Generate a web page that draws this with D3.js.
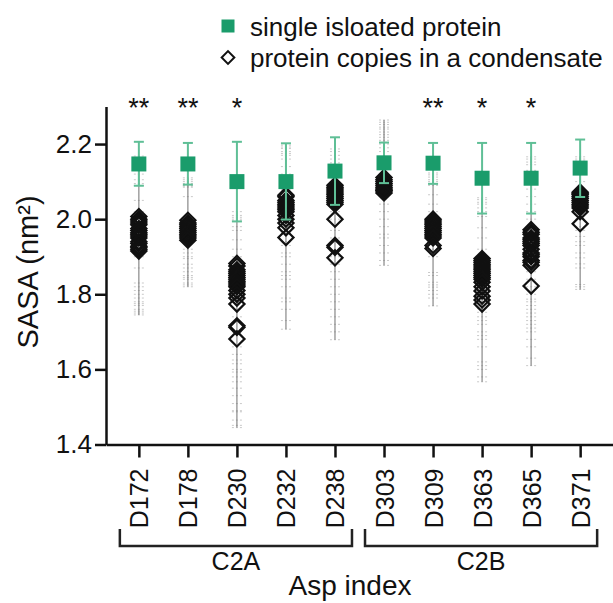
<!DOCTYPE html>
<html lang="en">
<head>
<meta charset="UTF-8">
<title>SASA</title>
<style>
  body { margin: 0; background: #fff; }
  #chart { display: block; }
  text { font-family: "Liberation Sans", Arial, sans-serif; fill: #111; }
</style>
</head>
<body>
<svg id="chart" width="613" height="603"></svg>
<script src="https://cdnjs.cloudflare.com/ajax/libs/d3/7.8.5/d3.min.js"></script>
<script>
// categories and groups
const categories = ["D172", "D178", "D230", "D232", "D238", "D303", "D309", "D363", "D365", "D371"];
const groups = [
  { name: "C2A", from: "D172", to: "D238" },
  { name: "C2B", from: "D303", to: "D371" }
];
const stars = ["**", "**", "*", "", "", "", "**", "*", "*", ""];

// single isolated protein: mean and error bar ends
const singleMean = [2.147, 2.147, 2.100, 2.100, 2.128, 2.150, 2.149, 2.109, 2.109, 2.136];
const singleLow  = [2.089, 2.092, 1.994, 1.999, 2.038, 2.096, 2.094, 2.015, 2.015, 2.059];
const singleHigh = [2.206, 2.203, 2.206, 2.202, 2.218, 2.204, 2.203, 2.203, 2.203, 2.212];

// protein copies in a condensate: per-copy means (diamonds)
const copyMeans = [
  [2.007, 2.0, 1.995, 1.99, 1.985, 1.975, 1.97, 1.964, 1.96, 1.955, 1.95, 1.94, 1.935, 1.928, 1.925, 1.92, 1.915],
  [1.997, 1.99, 1.985, 1.98, 1.975, 1.97, 1.965, 1.96, 1.955, 1.95, 1.944],
  [1.882, 1.875, 1.865, 1.86, 1.855, 1.85, 1.845, 1.84, 1.835, 1.83, 1.825, 1.82, 1.81, 1.8, 1.79, 1.774, 1.716, 1.712, 1.681],
  [2.064, 2.06, 2.05, 2.045, 2.04, 2.035, 2.03, 2.025, 2.02, 2.01, 2.0, 1.99, 1.977, 1.951],
  [2.09, 2.085, 2.08, 2.075, 2.07, 2.065, 2.06, 2.055, 2.05, 2.045, 2.04, 2.0, 1.93, 1.925, 1.897],
  [2.111, 2.105, 2.1, 2.095, 2.09, 2.085, 2.08, 2.077, 2.075, 2.07],
  [2.0, 1.995, 1.99, 1.985, 1.98, 1.975, 1.97, 1.965, 1.96, 1.955, 1.95, 1.93, 1.922],
  [1.895, 1.89, 1.885, 1.88, 1.875, 1.87, 1.865, 1.86, 1.855, 1.85, 1.845, 1.84, 1.832, 1.82, 1.809, 1.795, 1.785, 1.774],
  [1.972, 1.965, 1.96, 1.95, 1.945, 1.94, 1.935, 1.93, 1.92, 1.91, 1.905, 1.9, 1.89, 1.885, 1.877, 1.822],
  [2.072, 2.068, 2.065, 2.06, 2.055, 2.05, 2.045, 2.04, 2.035, 2.03, 2.02, 1.988]
];

// individual frames (small grey dashes)
const copyPoints = [
  [2.168, 2.162, 2.155, 2.148, 2.14, 2.12, 2.105, 2.095, 2.09, 2.05, 2.02, 2.0, 1.98, 1.96, 1.94, 1.92, 1.9, 1.87, 1.83, 1.82, 1.81, 1.8, 1.79, 1.78, 1.775, 1.77, 1.76, 1.755, 1.75, 1.745],
  [2.11, 2.105, 2.1, 2.095, 2.09, 2.088, 2.085, 2.06, 2.0, 1.98, 1.96, 1.94, 1.92, 1.91, 1.9, 1.895, 1.88, 1.87, 1.86, 1.85, 1.845, 1.84, 1.83, 1.825, 1.82],
  [2.02, 2.01, 2.005, 2.0, 1.995, 1.98, 1.97, 1.945, 1.92, 1.9, 1.86, 1.82, 1.78, 1.74, 1.7, 1.66, 1.64, 1.625, 1.615, 1.6, 1.593, 1.58, 1.567, 1.55, 1.53, 1.509, 1.49, 1.487, 1.465, 1.451, 1.445],
  [2.197, 2.192, 2.188, 2.18, 2.175, 2.17, 2.16, 2.14, 2.12, 2.1, 2.08, 2.06, 2.04, 2.02, 2.0, 1.98, 1.96, 1.94, 1.93, 1.91, 1.9, 1.88, 1.86, 1.85, 1.84, 1.82, 1.79, 1.78, 1.76, 1.73, 1.707],
  [2.187, 2.18, 2.17, 2.16, 2.15, 2.12, 2.1, 2.08, 2.06, 2.04, 2.02, 2.0, 1.97, 1.95, 1.92, 1.9, 1.88, 1.86, 1.84, 1.82, 1.8, 1.78, 1.76, 1.74, 1.72, 1.7, 1.679],
  [2.264, 2.258, 2.252, 2.245, 2.24, 2.232, 2.225, 2.218, 2.21, 2.2, 2.19, 2.18, 2.16, 2.14, 2.12, 2.1, 2.08, 2.06, 2.04, 2.02, 2.0, 1.98, 1.96, 1.95, 1.93, 1.91, 1.89, 1.877],
  [2.123, 2.118, 2.112, 2.105, 2.1, 2.095, 2.09, 2.065, 2.04, 2.02, 2.0, 1.98, 1.96, 1.94, 1.92, 1.9, 1.858, 1.85, 1.832, 1.825, 1.819, 1.81, 1.8, 1.79, 1.769],
  [2.057, 2.052, 2.045, 2.04, 2.03, 2.02, 2.007, 1.977, 1.95, 1.92, 1.9, 1.88, 1.86, 1.84, 1.82, 1.8, 1.78, 1.762, 1.752, 1.74, 1.73, 1.72, 1.7, 1.69, 1.68, 1.66, 1.62, 1.61, 1.6, 1.58, 1.567],
  [2.166, 2.16, 2.152, 2.145, 2.13, 2.122, 2.1, 2.08, 2.06, 2.04, 2.02, 2.0, 1.98, 1.96, 1.94, 1.92, 1.9, 1.88, 1.86, 1.84, 1.82, 1.8, 1.787, 1.78, 1.77, 1.76, 1.75, 1.74, 1.73, 1.72, 1.71, 1.7, 1.68, 1.66, 1.63, 1.61],
  [2.166, 2.16, 2.155, 2.14, 2.12, 2.1, 2.08, 2.06, 2.04, 2.02, 2.0, 1.98, 1.97, 1.954, 1.94, 1.93, 1.91, 1.897, 1.881, 1.87, 1.826, 1.82, 1.813]
];

const yTicks = [1.4, 1.6, 1.8, 2.0, 2.2];
const legendLabels = ["single isloated protein", "protein copies in a condensate"];

const green = "#1a9c6b";
const greenBar = "#5fbf96";

var svg = d3.select("#chart");

var x = d3.scalePoint().domain(categories).range([106, 613]).padding(0.67);
var y = d3.scaleLinear().domain([1.4, 2.3]).range([444.5, 106.5]);

// axes
var yAxis = svg.append("g")
  .attr("transform", "translate(106,0)")
  .call(d3.axisLeft(y).tickValues(yTicks).tickFormat(d3.format(".1f")).tickSize(11).tickPadding(3).tickSizeOuter(0));
yAxis.selectAll("path, line").attr("stroke", "#111").attr("stroke-width", 2.5);
yAxis.selectAll("text").attr("font-size", 26).attr("fill", "#111")
  .style("font-family", '"Liberation Sans", Arial, sans-serif');

var xAxis = svg.append("g")
  .attr("transform", "translate(0,444.5)")
  .call(d3.axisBottom(x).tickSize(13).tickSizeOuter(0));
xAxis.selectAll("path, line").attr("stroke", "#111").attr("stroke-width", 2.5);
xAxis.selectAll("text")
  .attr("font-size", 25).attr("fill", "#111")
  .style("font-family", '"Liberation Sans", Arial, sans-serif')
  .attr("text-anchor", "end")
  .attr("transform", "rotate(-90)")
  .attr("x", -24).attr("y", 0).attr("dy", "0.36em");

// axis titles
svg.append("text")
  .attr("transform", "translate(38,272) rotate(-90)")
  .attr("text-anchor", "middle")
  .attr("font-size", 29)
  .text("SASA (nm²)");
svg.append("text")
  .attr("x", 350).attr("y", 595)
  .attr("text-anchor", "middle")
  .attr("font-size", 28)
  .text("Asp index");

// group brackets
groups.forEach(function(g) {
  var x0 = x(g.from) - 19, x1 = x(g.to) + 17;
  svg.append("path")
    .attr("d", "M" + x0 + ",529V546H" + x1 + "V529")
    .attr("fill", "none").attr("stroke", "#222").attr("stroke-width", 2.5);
  svg.append("text")
    .attr("x", (x0 + x1) / 2).attr("y", 570)
    .attr("text-anchor", "middle")
    .attr("font-size", 25)
    .text(g.name);
});

var cols = svg.append("g").selectAll("g")
  .data(categories)
  .join("g")
  .attr("transform", function(d) { return "translate(" + x(d) + ",0)"; });

// grey range line
cols.append("line")
  .attr("y1", function(d, i) { return y(d3.max(copyPoints[i])); })
  .attr("y2", function(d, i) { return y(d3.min(copyPoints[i])); })
  .attr("stroke", "#888").attr("stroke-width", 1.2);

// grey dashes for individual values
cols.each(function(d, i) {
  d3.select(this).selectAll("line.pt")
    .data(copyPoints[i])
    .join("line")
    .attr("class", "pt")
    .attr("x1", -5).attr("x2", 5)
    .attr("y1", function(v) { return y(v); })
    .attr("y2", function(v) { return y(v); })
    .attr("stroke", "#777").attr("stroke-opacity", 0.4)
    .attr("stroke-width", 1)
    .attr("stroke-dasharray", "2,2");
});

// diamonds
var diamond = d3.symbol(d3.symbolSquare, 115);
cols.each(function(d, i) {
  d3.select(this).selectAll("path.dm")
    .data(copyMeans[i])
    .join("path")
    .attr("class", "dm")
    .attr("d", diamond)
    .attr("transform", function(v) { return "translate(0," + y(v) + ") rotate(45)"; })
    .attr("fill", "none").attr("stroke", "#111").attr("stroke-width", 2.2);
});

// single protein error bars and squares
cols.append("line")
  .attr("y1", function(d, i) { return y(singleHigh[i]); })
  .attr("y2", function(d, i) { return y(singleLow[i]); })
  .attr("stroke", greenBar).attr("stroke-width", 2);
cols.append("line")
  .attr("x1", -5).attr("x2", 5)
  .attr("y1", function(d, i) { return y(singleHigh[i]); })
  .attr("y2", function(d, i) { return y(singleHigh[i]); })
  .attr("stroke", greenBar).attr("stroke-width", 2);
cols.append("line")
  .attr("x1", -5).attr("x2", 5)
  .attr("y1", function(d, i) { return y(singleLow[i]); })
  .attr("y2", function(d, i) { return y(singleLow[i]); })
  .attr("stroke", greenBar).attr("stroke-width", 2);
cols.append("rect")
  .attr("x", -7.5).attr("width", 15).attr("height", 15)
  .attr("y", function(d, i) { return y(singleMean[i]) - 7.5; })
  .attr("fill", green);

// significance stars
cols.append("text")
  .attr("y", 117)
  .attr("text-anchor", "middle")
  .attr("font-size", 27)
  .text(function(d, i) { return stars[i]; });

// legend
var legend = svg.append("g");
legend.append("rect")
  .attr("x", 221.5).attr("y", 19.5).attr("width", 13).attr("height", 13)
  .attr("fill", green);
legend.append("path")
  .attr("d", d3.symbol(d3.symbolSquare, 80))
  .attr("transform", "translate(228,57.5) rotate(45)")
  .attr("fill", "none").attr("stroke", "#111").attr("stroke-width", 2);
legend.selectAll("text.lg")
  .data(legendLabels)
  .join("text")
  .attr("class", "lg")
  .attr("x", 250)
  .attr("y", function(d, i) { return 36 + i * 31; })
  .attr("font-size", 26)
  .text(function(d) { return d; });
</script>
</body>
</html>
